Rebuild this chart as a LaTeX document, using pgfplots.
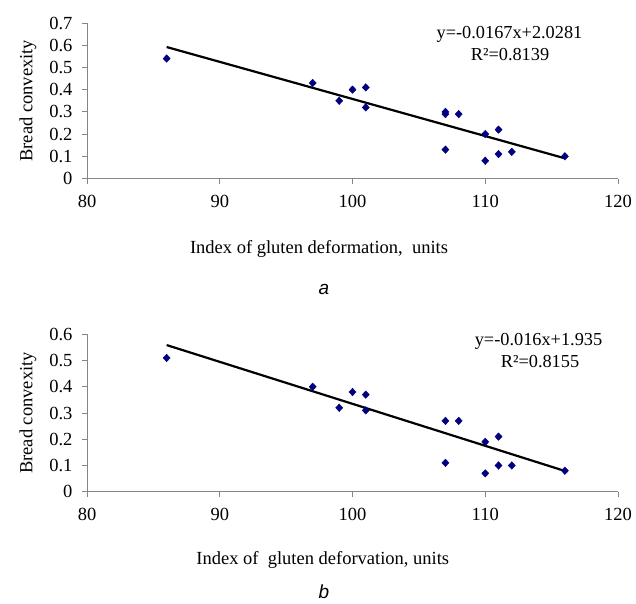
\documentclass[border=0pt]{standalone}
\usepackage{fontspec}
\setmainfont{Liberation Serif}
\newfontfamily\sansfont{Liberation Sans}
\usepackage{pgfplots}
\pgfplotsset{compat=1.18}

\definecolor{ptnavy}{RGB}{0,0,128}
\definecolor{axgray}{RGB}{134,134,134}

\pgfplotsset{
  convexplot/.style={
    scale only axis, width=531bp,
    xmin=80, xmax=120, ymin=0,
    axis lines*=left,
    axis line style={axgray, line width=1bp, -},
    tick style={axgray, line width=1bp},
    tick align=outside, major tick length=5bp,
    xtick={80,90,100,110,120},
    /pgf/number format/assume math mode=true,
    ticklabel style={font=\fontsize{18.5bp}{21bp}\selectfont},
    yticklabel style={xshift=-6bp},
    xticklabel style={yshift=-8bp},
    label style={font=\fontsize{18.5bp}{21bp}\selectfont},
    ylabel={Bread convexity},
    ylabel style={at={(axis description cs:-0.111,0.5)}, anchor=center},
    clip=false,
  },
  pts/.style={only marks, mark=diamond*, mark size=3.8bp, color=ptnavy,
    mark options={xscale=1.25}},
  trend/.style={black, line width=2.2bp, no marks},
}

\begin{document}
\begin{tikzpicture}
\useasboundingbox (0,0) rectangle (636bp,-604bp);

% a) deformation index
\begin{axis}[convexplot,
    at={(87bp,-178.5bp)}, anchor=south west, height=155.5bp,
    ymax=0.7, ytick={0,0.1,0.2,0.3,0.4,0.5,0.6,0.7},
    xlabel={Index of gluten deformation,\ \ units},
    xlabel style={at={(axis description cs:0.437,0)}, anchor=center, yshift=-70.5bp}]
  \addplot[pts] coordinates {
    (86,0.54) (97,0.43) (99,0.35) (100,0.40) (101,0.41) (101,0.32)
    (107,0.30) (107,0.29) (107,0.13) (108,0.29) (110,0.20) (110,0.08)
    (111,0.22) (111,0.11) (112,0.12) (116,0.10)};
  \addplot[trend] coordinates {(86,0.5919) (116,0.0909)};
\end{axis}

% b) deformation index
\begin{axis}[convexplot,
    at={(87bp,-491.7bp)}, anchor=south west, height=157.4bp,
    ymax=0.6, ytick={0,0.1,0.2,0.3,0.4,0.5,0.6},
    xlabel={Index of\ \ gluten deforvation, units},
    xlabel style={at={(axis description cs:0.444,0)}, anchor=center, yshift=-68.5bp}]
  \addplot[pts] coordinates {
    (86,0.51) (97,0.40) (99,0.32) (100,0.38) (101,0.37) (101,0.31)
    (107,0.27) (107,0.11) (108,0.27) (110,0.19) (110,0.07)
    (111,0.21) (111,0.10) (112,0.10) (116,0.08)};
  \addplot[trend] coordinates {(86,0.559) (116,0.079)};
\end{axis}

\begin{scope}[every node/.style={font=\fontsize{18.3bp}{21bp}\selectfont, inner sep=0pt}]
  \node at (509.5bp,-34.5bp) {y=-0.0167x+2.0281};
  \node at (510bp,-54.5bp) {R²=0.8139};
  \node at (538.5bp,-341.5bp) {y=-0.016x+1.935};
  \node at (540bp,-361.5bp) {R²=0.8155};
\end{scope}

\node[font=\sansfont\itshape\fontsize{19bp}{22bp}\selectfont] at (324bp,-289bp) {a};
\node[font=\sansfont\itshape\fontsize{19bp}{22bp}\selectfont] at (324bp,-592bp) {b};
\end{tikzpicture}
\end{document}
